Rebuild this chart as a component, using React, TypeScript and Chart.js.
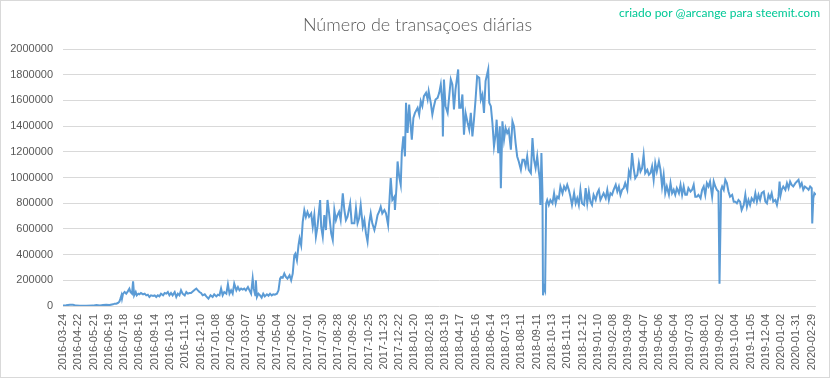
import React, { useEffect, useRef } from "react";
import { Chart, registerables } from "chart.js";

Chart.register(...registerables);

const TITLE = "Número de transaçoes diárias";
const CREDIT = "criado por @arcange para steemit.com";

// category labels shown every 29 categories
const tickLabels = [
  "2016-03-24", "2016-04-22", "2016-05-21", "2016-06-19", "2016-07-18", "2016-08-16",
  "2016-09-14", "2016-10-13", "2016-11-11", "2016-12-10", "2017-01-08", "2017-02-06",
  "2017-03-07", "2017-04-05", "2017-05-04", "2017-06-02", "2017-07-01", "2017-07-30",
  "2017-08-28", "2017-09-26", "2017-10-25", "2017-11-23", "2017-12-22", "2018-01-20",
  "2018-02-18", "2018-03-19", "2018-04-17", "2018-05-16", "2018-06-14", "2018-07-13",
  "2018-08-11", "2018-09-11", "2018-10-13", "2018-11-11", "2018-12-12", "2019-01-10",
  "2019-02-08", "2019-03-09", "2019-04-07", "2019-05-06", "2019-06-04", "2019-07-03",
  "2019-08-01", "2019-09-02", "2019-10-04", "2019-11-05", "2019-12-04", "2020-01-02",
  "2020-01-31", "2020-02-29",
];
const LABEL_EVERY = 29;
const LAST_CATEGORY = 1429;

const Y_MAX = 2000000;
const Y_STEP = 200000;

// category position (day number in the series) of each sampled point
const dayIndex = [
  0, 6, 13, 19, 25, 32, 44, 57, 60, 63, 70, 76, 82, 88, 95, 98, 101, 104, 107, 109, 111, 112, 114, 117, 120, 123, 126, 128, 131, 133, 135, 138, 140, 143, 145, 148, 152, 155, 158, 161, 164, 167, 171, 174, 177, 180, 183, 186, 190, 193, 196, 199, 202, 205, 208, 212, 215, 218, 221, 224, 227, 231, 234, 237, 240,
  243, 250, 253, 256, 259, 262, 265, 269, 272, 276, 280, 284, 287, 291, 294, 297, 300, 303, 306, 310, 313, 316, 319, 322, 325, 329, 332, 335, 338, 341, 344, 347, 351, 354, 357, 360, 362, 365, 366, 368, 371, 374, 377, 380, 383, 387, 390, 393, 396, 399, 402, 406, 409, 412, 414, 417, 420, 423, 426, 430, 433, 436, 439, 441, 444, 447, 449, 452, 455, 458, 461, 464,
  467, 471, 474, 477, 480, 483, 488, 490, 493, 496, 499, 502, 505, 509, 512, 515, 518, 521, 524, 527, 531, 534, 537, 540, 545, 548, 553, 556, 559, 562, 565, 569, 572, 575, 578, 581, 584, 587, 591, 594, 597, 600, 603, 606, 610, 613, 617, 620, 622, 625, 629, 630, 633, 635, 638, 641, 643, 646, 649, 651, 654, 657, 660, 662, 665, 668, 673, 676, 679, 682, 685, 689, 692, 694, 698, 701, 704, 707, 711, 714,
  717, 720, 721, 723, 726, 730, 733, 736, 739, 742, 745, 750, 752, 755, 758, 761, 764, 768, 771, 774, 777, 780, 783, 786, 790, 793, 796, 799, 802, 807, 809, 812, 815, 818, 821, 823, 826, 829, 831, 834, 837, 840, 843, 846, 850, 853, 856, 859, 862, 865, 869, 872, 875, 878, 881, 884, 888, 891, 894, 897, 900, 903, 905, 906, 908, 910, 911, 913, 915, 917, 919, 922, 925, 929, 932, 935, 938, 941, 944, 948,
  951, 954, 957, 960, 963, 966, 970, 973, 976, 979, 982, 985, 989, 992, 995, 998, 1001, 1004, 1007, 1011, 1014, 1017, 1020, 1023, 1026, 1030, 1033, 1036, 1039, 1042, 1045, 1049, 1052, 1055, 1058, 1061, 1064, 1067, 1071, 1074, 1077, 1080, 1083, 1086, 1090, 1093, 1096, 1099, 1102, 1105, 1109, 1112, 1115, 1118, 1121, 1124, 1127, 1131, 1134, 1137, 1140, 1143, 1146, 1150, 1153, 1156, 1159, 1162, 1165, 1169, 1172, 1175, 1178, 1181,
  1184, 1187, 1191, 1194, 1197, 1200, 1203, 1206, 1210, 1213, 1216, 1219, 1222, 1225, 1228, 1232, 1235, 1238, 1241, 1244, 1246, 1249, 1251, 1254, 1257, 1260, 1263, 1266, 1270, 1273, 1276, 1279, 1282, 1285, 1288, 1292, 1295, 1298, 1301, 1304, 1307, 1311, 1314, 1317, 1320, 1323, 1326, 1330, 1333, 1336, 1339, 1342, 1345, 1348, 1352, 1355, 1358, 1360, 1362, 1364, 1367, 1371, 1374, 1377, 1380, 1383, 1386, 1390, 1393, 1396, 1399, 1402, 1405, 1408, 1412, 1415, 1418, 1421, 1422, 1424, 1426, 1429,
];

// daily transactions, in thousands
const txThousands = [
  3, 5, 10, 10, 3, 2, 2, 3, 5, 8, 4, 8, 10, 7, 13, 18, 18, 23, 34, 57, 83, 57, 96, 109, 96, 114, 135, 109, 96, 192, 83, 109, 83, 96, 91, 101, 91, 96, 83, 88, 70, 83, 78, 83, 70, 83, 75, 96, 83, 101, 96, 109, 83, 101, 83, 109, 70, 96, 83, 122, 96, 83, 109, 96, 101,
  101, 127, 135, 122, 109, 101, 83, 91, 75, 57, 83, 70, 91, 75, 88, 83, 135, 83, 109, 96, 169, 96, 122, 96, 174, 122, 148, 122, 135, 127, 135, 122, 148, 122, 96, 213, 135, 83, 200, 70, 96, 83, 65, 96, 75, 91, 80, 96, 83, 91, 88, 96, 122, 213, 226, 221, 252, 226, 213, 239, 200, 252, 395, 408, 356, 473, 525, 473, 655, 745, 693, 732,
  695, 721, 617, 708, 539, 617, 825, 617, 539, 708, 591, 825, 721, 565, 513, 747, 669, 708, 734, 669, 877, 747, 669, 695, 799, 643, 643, 760, 643, 682, 786, 617, 669, 565, 500, 643, 721, 643, 591, 643, 708, 734, 773, 721, 747, 721, 630, 851, 995, 825, 851, 747, 930, 1125, 1008, 943, 1190, 1320, 1164, 1581, 1346, 1568, 1398, 1294, 1463, 1503, 1542, 1490, 1594, 1555, 1633, 1659, 1607, 1672, 1581, 1490, 1555, 1607, 1620, 1659,
  1724, 1581, 1320, 1763, 1555, 1503, 1633, 1763, 1724, 1529, 1685, 1841, 1542, 1542, 1646, 1333, 1503, 1424, 1372, 1503, 1320, 1450, 1607, 1789, 1776, 1607, 1646, 1503, 1750, 1841, 1581, 1555, 1424, 1242, 1333, 1450, 1190, 1398, 916, 1437, 1294, 1385, 1346, 1372, 1216, 1437, 1398, 1268, 1164, 1125, 1060, 1138, 1138, 1086, 1164, 1060, 1034, 1307, 1138, 1073, 1164, 1047, 982, 786, 1190, 877, 83, 148, 122, 799, 825, 786, 825, 799, 877, 799, 851, 838, 930, 877,
  930, 904, 943, 904, 851, 786, 878, 799, 838, 786, 904, 799, 786, 917, 799, 891, 812, 786, 865, 825, 878, 904, 825, 851, 878, 838, 904, 825, 878, 865, 904, 943, 891, 930, 865, 904, 917, 956, 904, 1047, 1008, 1190, 1073, 995, 1021, 1112, 1047, 1073, 1177, 1034, 1060, 1021, 1034, 1086, 982, 1112, 1047, 1125, 1060, 930, 1021, 878, 930, 865, 956, 878, 904, 865, 917, 878, 943, 865, 930, 865,
  865, 917, 891, 904, 943, 851, 851, 865, 838, 904, 930, 865, 956, 930, 969, 851, 969, 930, 904, 891, 174, 904, 930, 904, 982, 956, 891, 851, 865, 812, 812, 799, 825, 812, 747, 786, 865, 773, 825, 786, 838, 812, 878, 812, 865, 825, 878, 891, 812, 799, 865, 838, 878, 812, 825, 786, 851, 969, 865, 904, 930, 904, 956, 917, 969, 943, 930, 956, 969, 982, 930, 956, 904, 930, 917, 904, 930, 917, 643, 838, 878, 865,
];

const TEXT_COLOR = "#595959";
const GRID_COLOR = "#d9d9d9";
const LINE_COLOR = "#5b9bd5";
const CREDIT_COLOR = "#00c896";

const headerPlugin = {
  id: "headerText",
  afterDraw(chart: any) {
    const ctx = chart.ctx as CanvasRenderingContext2D;
    ctx.save();
    ctx.textBaseline = "middle";
    ctx.fillStyle = TEXT_COLOR;
    ctx.font = '300 18px Lato';
    ctx.textAlign = "center";
    ctx.fillText(TITLE, chart.width / 2 + 1, 25);
    ctx.fillStyle = CREDIT_COLOR;
    ctx.font = '12px Lato';
    ctx.textAlign = "right";
    ctx.fillText(CREDIT, chart.width - 13, 13);
    ctx.restore();
  },
};

export default function App() {
  const canvasRef = useRef<HTMLCanvasElement | null>(null);

  useEffect(() => {
    document.body.style.margin = "0";
    const canvas = canvasRef.current;
    if (!canvas) return;
    const points = dayIndex.map((d, i) => ({ x: d, y: txThousands[i] * 1000 }));
    const tickFont = { family: "'Liberation Sans', Arial, sans-serif", size: 11 };
    const chart = new Chart(canvas, {
      type: "line",
      data: {
        datasets: [
          {
            data: points,
            borderColor: LINE_COLOR,
            borderWidth: 2,
            pointRadius: 0,
            tension: 0,
            fill: false,
          },
        ],
      },
      options: {
        animation: false,
        responsive: false,
        devicePixelRatio: 1,
        parsing: false,
        layout: { padding: { top: 49, right: 15, left: 0, bottom: 0 } },
        plugins: {
          legend: { display: false },
          tooltip: { enabled: false },
          title: { display: false },
        },
        scales: {
          x: {
            type: "linear",
            min: 0,
            max: LAST_CATEGORY,
            grid: { display: false, drawTicks: false },
            border: { display: false },
            afterBuildTicks: (scale: any) => {
              scale.ticks = tickLabels.map((_, k) => ({ value: k * LABEL_EVERY }));
            },
            afterFit: (scale: any) => {
              scale.height = 73;
            },
            ticks: {
              autoSkip: false,
              minRotation: 90,
              maxRotation: 90,
              padding: 8,
              color: TEXT_COLOR,
              font: tickFont,
              callback: (v: any) => tickLabels[Math.round(Number(v) / LABEL_EVERY)] ?? "",
            },
          },
          y: {
            min: 0,
            max: Y_MAX,
            grid: { color: GRID_COLOR, drawTicks: false, lineWidth: 1 },
            border: { display: false },
            afterFit: (scale: any) => {
              scale.width = 63;
            },
            ticks: {
              stepSize: Y_STEP,
              padding: 10,
              color: TEXT_COLOR,
              font: tickFont,
              callback: (v: any) => String(v),
            },
          },
        },
      },
      plugins: [headerPlugin],
    });
    return () => chart.destroy();
  }, []);

  return (
    <div style={{ position: "relative", width: 833, height: 379, background: "#fff" }}>
      <canvas ref={canvasRef} width={833} height={379} style={{ display: "block" }} />
      <div
        style={{
          position: "absolute",
          left: 0,
          top: 0,
          width: 830,
          height: 378,
          border: "1px solid " + GRID_COLOR,
          boxSizing: "border-box",
          pointerEvents: "none",
        }}
      />
    </div>
  );
}
